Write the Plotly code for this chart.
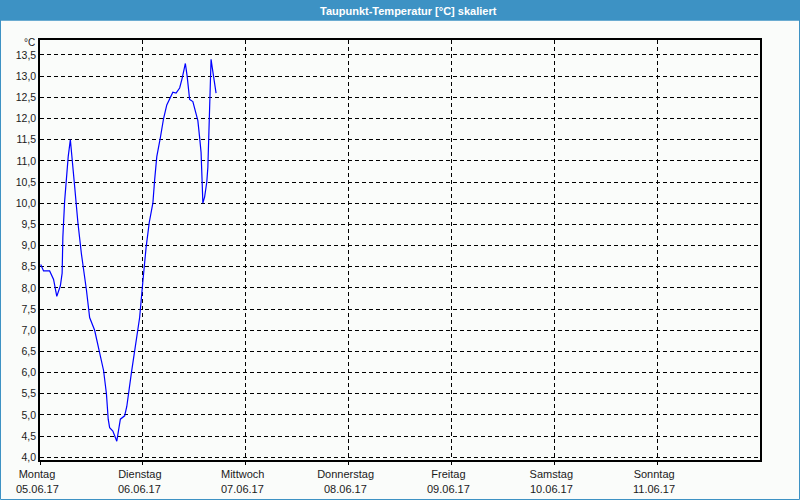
import plotly.graph_objects as go

times = [
    "2017-06-05 00:10", "2017-06-05 00:50", "2017-06-05 02:15", "2017-06-05 03:10", "2017-06-05 03:55",
    "2017-06-05 04:45", "2017-06-05 05:10", "2017-06-05 05:20", "2017-06-05 05:45", "2017-06-05 06:15",
    "2017-06-05 06:35", "2017-06-05 07:05", "2017-06-05 07:35", "2017-06-05 08:05", "2017-06-05 08:50",
    "2017-06-05 09:40", "2017-06-05 10:50", "2017-06-05 11:35", "2017-06-05 12:45", "2017-06-05 13:55",
    "2017-06-05 14:50", "2017-06-05 15:30", "2017-06-05 15:55", "2017-06-05 16:15", "2017-06-05 17:00",
    "2017-06-05 17:55", "2017-06-05 18:45", "2017-06-05 19:45", "2017-06-05 20:15", "2017-06-05 21:20",
    "2017-06-05 22:20", "2017-06-05 23:15", "2017-06-06 00:00", "2017-06-06 00:45", "2017-06-06 01:30",
    "2017-06-06 02:20", "2017-06-06 02:45", "2017-06-06 03:15", "2017-06-06 04:05", "2017-06-06 04:50",
    "2017-06-06 05:35", "2017-06-06 06:25", "2017-06-06 07:00", "2017-06-06 07:45", "2017-06-06 08:35",
    "2017-06-06 09:10", "2017-06-06 09:55", "2017-06-06 10:20", "2017-06-06 10:55", "2017-06-06 11:40",
    "2017-06-06 12:15", "2017-06-06 12:50", "2017-06-06 13:15", "2017-06-06 13:35", "2017-06-06 13:50",
    "2017-06-06 14:00", "2017-06-06 14:25", "2017-06-06 14:55", "2017-06-06 15:10", "2017-06-06 15:20",
    "2017-06-06 15:30", "2017-06-06 15:45", "2017-06-06 15:55", "2017-06-06 16:10", "2017-06-06 16:30",
    "2017-06-06 16:45", "2017-06-06 17:05",
]
dewpoint = [
    8.55, 8.4, 8.4, 8.2, 7.8,
    8.05, 8.35, 9.2, 10.05, 10.7,
    11.1, 11.5, 11.0, 10.4, 9.55,
    8.8, 7.95, 7.3, 7.0, 6.45,
    6.05, 5.5, 4.9, 4.7, 4.62,
    4.38, 4.9, 4.98, 5.2, 6.0,
    6.7, 7.3, 8.15, 8.95, 9.55,
    10.0, 10.55, 11.1, 11.55, 12.0,
    12.32, 12.52, 12.62, 12.6, 12.72,
    12.95, 13.3, 13.0, 12.45, 12.4,
    12.2, 11.95, 11.55, 11.2, 10.5,
    10.0, 10.15, 10.5, 10.85, 11.55,
    12.3, 13.05, 13.4, 13.22, 13.02,
    12.83, 12.6,
]

day_ticks = ["2017-06-05", "2017-06-06", "2017-06-07", "2017-06-08", "2017-06-09", "2017-06-10", "2017-06-11"]
day_names = ["Montag", "Dienstag", "Mittwoch", "Donnerstag", "Freitag", "Samstag", "Sonntag"]
day_dates = ["05.06.17", "06.06.17", "07.06.17", "08.06.17", "09.06.17", "10.06.17", "11.06.17"]
y_ticks = [4.0 + 0.5 * i for i in range(20)]

title = "Taupunkt-Temperatur [°C] skaliert"
unit = "°C"

FONT = "Liberation Sans, Arial, sans-serif"
BLUE = "#3d92c4"
TXT = "#1a1a1a"

fig = go.Figure()
fig.add_trace(go.Scatter(x=times, y=dewpoint, mode="lines",
                         line=dict(color="#0000ff", width=1.2), hoverinfo="skip"))

W, H = 800, 500
L, R, T, B = 40, 40, 40, 40
pw, ph = W - L - R, H - T - B

def px(x):
    return (x - L) / pw

def py(y):
    return (H - B - y) / ph

annotations = [
    dict(text=title, xref="paper", yref="paper", x=px(408), y=py(10.5),
         xanchor="center", yanchor="middle", showarrow=False,
         font=dict(family=FONT, size=11, color="#ffffff", weight="bold")),
    dict(text=unit, xref="paper", yref="paper", x=px(37), y=py(43),
         xanchor="right", yanchor="middle", showarrow=False,
         font=dict(family=FONT, size=10, color=TXT)),
]
for d, lab in zip(day_ticks, day_dates):
    annotations.append(dict(text=lab, xref="x", yref="paper", x=d, y=py(488.5),
                            xanchor="center", yanchor="middle", xshift=-3, showarrow=False,
                            font=dict(family=FONT, size=11, color=TXT)))

fig.update_layout(
    width=W, height=H,
    margin=dict(l=L, r=R, t=T, b=B, autoexpand=False),
    paper_bgcolor="#fafcfa", plot_bgcolor="#fafcfa",
    showlegend=False,
    separators=",.",
    font=dict(family=FONT, size=10, color=TXT),
    xaxis=dict(
        type="date", range=["2017-06-05", "2017-06-12"],
        tickvals=day_ticks, ticktext=day_names,
        showgrid=True, gridcolor="#000000", griddash="4px,3px", gridwidth=1,
        showline=True, linecolor="#000000", linewidth=1.5, mirror=True,
        ticks="outside", ticklen=3, tickcolor="#000000",
        ticklabelstandoff=0, ticklabelshift=-3,
        zeroline=False, tickangle=0,
        tickfont=dict(family=FONT, size=11, color=TXT),
    ),
    yaxis=dict(
        range=[3.936, 13.854],
        tickvals=y_ticks, tickformat=".1f",
        showgrid=True, gridcolor="#000000", griddash="4px,3px", gridwidth=1,
        showline=True, linecolor="#000000", linewidth=1.5, mirror=True,
        ticks="", zeroline=False,
        tickfont=dict(family=FONT, size=10.5, color=TXT),
    ),
    shapes=[
        dict(type="rect", xref="paper", yref="paper",
             x0=px(0), x1=px(800), y0=py(20.5), y1=py(0),
             fillcolor=BLUE, line=dict(width=0), layer="above"),
        dict(type="rect", xref="paper", yref="paper",
             x0=px(0.5), x1=px(799.5), y0=py(499.5), y1=py(20),
             line=dict(color=BLUE, width=1), fillcolor="rgba(0,0,0,0)", layer="above"),
    ],
    annotations=annotations,
)

fig.write_html("out.html", config={"displayModeBar": False},
               post_script="document.body.style.margin='0px';")
